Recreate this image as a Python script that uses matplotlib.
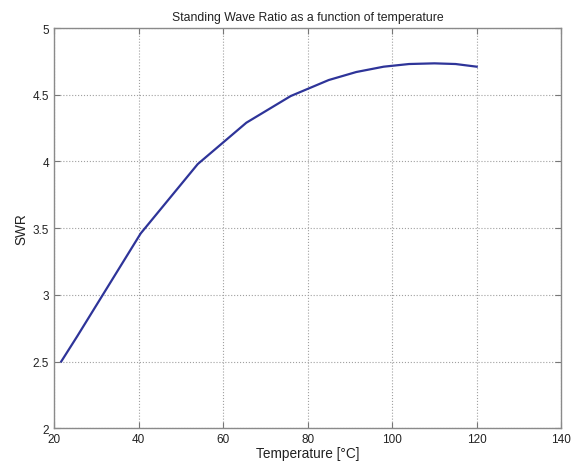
import numpy as np
import matplotlib.pyplot as plt

temp = [21.7, 25.5, 40.5, 54, 65.5, 76, 85, 91.5, 98, 104, 110, 115, 120]
swr = [2.50, 2.69, 3.46, 3.98, 4.29, 4.49, 4.61, 4.67, 4.71, 4.73, 4.735, 4.73, 4.71]

xticks = [20, 40, 60, 80, 100, 120, 140]
yticks = [2, 2.5, 3, 3.5, 4, 4.5, 5]

plt.rcParams['font.family'] = ['Liberation Sans', 'DejaVu Sans']

fig = plt.figure(figsize=(5.75, 4.64), dpi=100)
ax = fig.add_axes([0.094, 0.075, 0.882, 0.8625])

ax.plot(temp, swr, color='#2e3499', linewidth=1.6)

ax.set_xlim(20, 140)
ax.set_ylim(2, 5)
ax.set_xticks(xticks)
ax.set_yticks(yticks)
ax.set_xticklabels([str(t) for t in xticks])
ax.set_yticklabels(['2', '2.5', '3', '3.5', '4', '4.5', '5'])
ax.grid(True, linestyle=':', color='#a0a0a0', linewidth=0.8)
ax.tick_params(direction='in', top=True, right=True, labelsize=8.5, length=4,
               color='#777777', labelcolor='#222222')
for s in ax.spines.values():
    s.set_color('#8a8a8a')
    s.set_linewidth(1.0)

ax.set_title('Standing Wave Ratio as a function of temperature', fontsize=8.8, color='#222222')
ax.set_xlabel('Temperature [°C]', fontsize=9.8, labelpad=1, color='#222222')
ax.set_ylabel('SWR', fontsize=9.8, labelpad=3, color='#222222')

fig.savefig('out.png', dpi=100)
